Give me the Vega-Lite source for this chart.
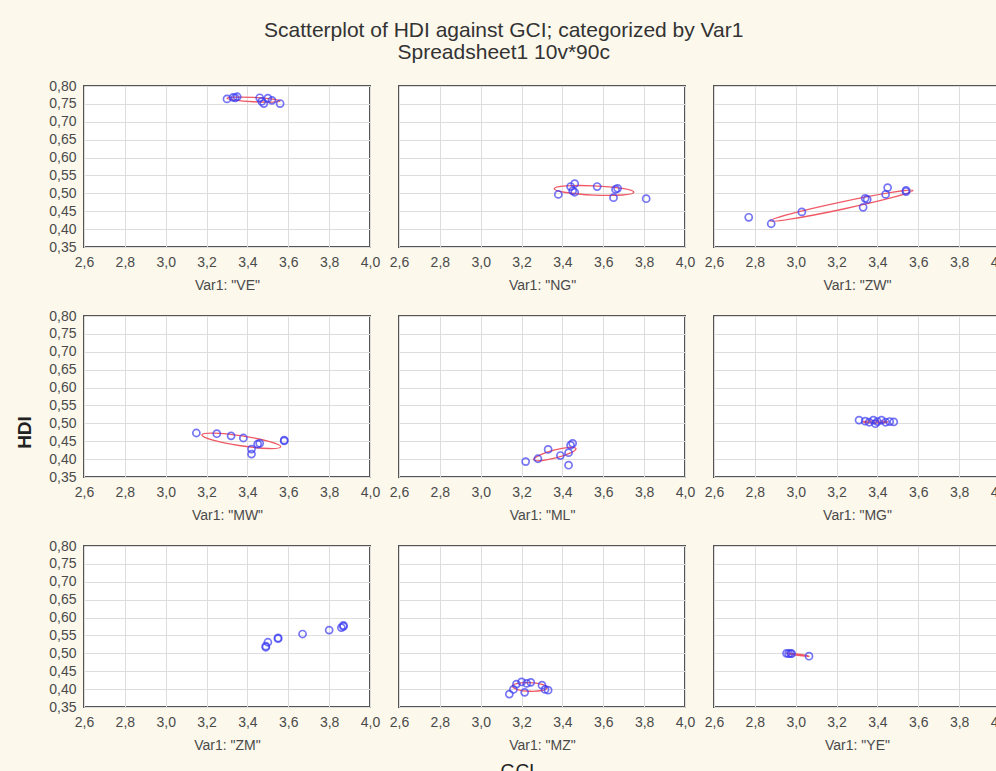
{
  "$schema": "https://vega.github.io/schema/vega-lite/v6.json",
  "padding": {"left": 14, "top": 20, "right": 0, "bottom": 0},
  "title": {
    "text": "Scatterplot of HDI against GCI; categorized by Var1",
    "subtitle": "Spreadsheet1 10v*90c",
    "anchor": "middle",
    "dx": -9,
    "offset": 15
  },
  "datasets": {
    "pts": [
      {"Var1": "VE", "GCI": 3.30, "HDI": 0.764}, {"Var1": "VE", "GCI": 3.33, "HDI": 0.768}, {"Var1": "VE", "GCI": 3.35, "HDI": 0.770}, {"Var1": "VE", "GCI": 3.34, "HDI": 0.767}, {"Var1": "VE", "GCI": 3.46, "HDI": 0.767}, {"Var1": "VE", "GCI": 3.48, "HDI": 0.751}, {"Var1": "VE", "GCI": 3.47, "HDI": 0.757}, {"Var1": "VE", "GCI": 3.50, "HDI": 0.766}, {"Var1": "VE", "GCI": 3.52, "HDI": 0.760}, {"Var1": "VE", "GCI": 3.56, "HDI": 0.751},
      {"Var1": "NG", "GCI": 3.38, "HDI": 0.497}, {"Var1": "NG", "GCI": 3.44, "HDI": 0.519}, {"Var1": "NG", "GCI": 3.46, "HDI": 0.527}, {"Var1": "NG", "GCI": 3.45, "HDI": 0.507}, {"Var1": "NG", "GCI": 3.46, "HDI": 0.503}, {"Var1": "NG", "GCI": 3.57, "HDI": 0.519}, {"Var1": "NG", "GCI": 3.66, "HDI": 0.511}, {"Var1": "NG", "GCI": 3.67, "HDI": 0.514}, {"Var1": "NG", "GCI": 3.65, "HDI": 0.488}, {"Var1": "NG", "GCI": 3.81, "HDI": 0.485},
      {"Var1": "ZW", "GCI": 2.77, "HDI": 0.433}, {"Var1": "ZW", "GCI": 2.88, "HDI": 0.415}, {"Var1": "ZW", "GCI": 3.03, "HDI": 0.448}, {"Var1": "ZW", "GCI": 3.33, "HDI": 0.461}, {"Var1": "ZW", "GCI": 3.34, "HDI": 0.486}, {"Var1": "ZW", "GCI": 3.35, "HDI": 0.483}, {"Var1": "ZW", "GCI": 3.44, "HDI": 0.497}, {"Var1": "ZW", "GCI": 3.45, "HDI": 0.516}, {"Var1": "ZW", "GCI": 3.54, "HDI": 0.505}, {"Var1": "ZW", "GCI": 3.54, "HDI": 0.508},
      {"Var1": "MW", "GCI": 3.15, "HDI": 0.473}, {"Var1": "MW", "GCI": 3.25, "HDI": 0.471}, {"Var1": "MW", "GCI": 3.32, "HDI": 0.465}, {"Var1": "MW", "GCI": 3.38, "HDI": 0.459}, {"Var1": "MW", "GCI": 3.42, "HDI": 0.414}, {"Var1": "MW", "GCI": 3.42, "HDI": 0.428}, {"Var1": "MW", "GCI": 3.45, "HDI": 0.442}, {"Var1": "MW", "GCI": 3.46, "HDI": 0.444}, {"Var1": "MW", "GCI": 3.58, "HDI": 0.453}, {"Var1": "MW", "GCI": 3.58, "HDI": 0.451},
      {"Var1": "ML", "GCI": 3.22, "HDI": 0.393}, {"Var1": "ML", "GCI": 3.28, "HDI": 0.401}, {"Var1": "ML", "GCI": 3.33, "HDI": 0.427}, {"Var1": "ML", "GCI": 3.39, "HDI": 0.410}, {"Var1": "ML", "GCI": 3.43, "HDI": 0.418}, {"Var1": "ML", "GCI": 3.44, "HDI": 0.439}, {"Var1": "ML", "GCI": 3.45, "HDI": 0.444}, {"Var1": "ML", "GCI": 3.43, "HDI": 0.383},
      {"Var1": "MG", "GCI": 3.31, "HDI": 0.509}, {"Var1": "MG", "GCI": 3.34, "HDI": 0.506}, {"Var1": "MG", "GCI": 3.36, "HDI": 0.503}, {"Var1": "MG", "GCI": 3.38, "HDI": 0.509}, {"Var1": "MG", "GCI": 3.39, "HDI": 0.499}, {"Var1": "MG", "GCI": 3.40, "HDI": 0.505}, {"Var1": "MG", "GCI": 3.42, "HDI": 0.509}, {"Var1": "MG", "GCI": 3.44, "HDI": 0.503}, {"Var1": "MG", "GCI": 3.46, "HDI": 0.505}, {"Var1": "MG", "GCI": 3.48, "HDI": 0.504},
      {"Var1": "ZM", "GCI": 3.49, "HDI": 0.517}, {"Var1": "ZM", "GCI": 3.50, "HDI": 0.531}, {"Var1": "ZM", "GCI": 3.55, "HDI": 0.543}, {"Var1": "ZM", "GCI": 3.55, "HDI": 0.541}, {"Var1": "ZM", "GCI": 3.67, "HDI": 0.554}, {"Var1": "ZM", "GCI": 3.80, "HDI": 0.565}, {"Var1": "ZM", "GCI": 3.86, "HDI": 0.572}, {"Var1": "ZM", "GCI": 3.87, "HDI": 0.578}, {"Var1": "ZM", "GCI": 3.87, "HDI": 0.575}, {"Var1": "ZM", "GCI": 3.49, "HDI": 0.520},
      {"Var1": "MZ", "GCI": 3.14, "HDI": 0.386}, {"Var1": "MZ", "GCI": 3.16, "HDI": 0.399}, {"Var1": "MZ", "GCI": 3.175, "HDI": 0.414}, {"Var1": "MZ", "GCI": 3.20, "HDI": 0.420}, {"Var1": "MZ", "GCI": 3.215, "HDI": 0.391}, {"Var1": "MZ", "GCI": 3.225, "HDI": 0.416}, {"Var1": "MZ", "GCI": 3.245, "HDI": 0.419}, {"Var1": "MZ", "GCI": 3.30, "HDI": 0.411}, {"Var1": "MZ", "GCI": 3.315, "HDI": 0.399}, {"Var1": "MZ", "GCI": 3.33, "HDI": 0.397},
      {"Var1": "YE", "GCI": 2.955, "HDI": 0.500}, {"Var1": "YE", "GCI": 2.965, "HDI": 0.499}, {"Var1": "YE", "GCI": 2.975, "HDI": 0.500}, {"Var1": "YE", "GCI": 2.98, "HDI": 0.499}, {"Var1": "YE", "GCI": 3.065, "HDI": 0.492}
    ],
    "ell": [
      {"Var1": "VE", "i": 0, "GCI": 3.56, "HDI": 0.758}, {"Var1": "VE", "i": 1, "GCI": 3.522, "HDI": 0.7634}, {"Var1": "VE", "i": 2, "GCI": 3.43, "HDI": 0.768}, {"Var1": "VE", "i": 3, "GCI": 3.338, "HDI": 0.769}, {"Var1": "VE", "i": 4, "GCI": 3.30, "HDI": 0.766}, {"Var1": "VE", "i": 5, "GCI": 3.338, "HDI": 0.7606}, {"Var1": "VE", "i": 6, "GCI": 3.43, "HDI": 0.756}, {"Var1": "VE", "i": 7, "GCI": 3.522, "HDI": 0.755},
      {"Var1": "NG", "i": 0, "GCI": 3.75, "HDI": 0.503}, {"Var1": "NG", "i": 1, "GCI": 3.693, "HDI": 0.5137}, {"Var1": "NG", "i": 2, "GCI": 3.555, "HDI": 0.521}, {"Var1": "NG", "i": 3, "GCI": 3.417, "HDI": 0.5207}, {"Var1": "NG", "i": 4, "GCI": 3.36, "HDI": 0.513}, {"Var1": "NG", "i": 5, "GCI": 3.417, "HDI": 0.5023}, {"Var1": "NG", "i": 6, "GCI": 3.555, "HDI": 0.495}, {"Var1": "NG", "i": 7, "GCI": 3.693, "HDI": 0.4953},
      {"Var1": "ZW", "i": 0, "GCI": 3.5745, "HDI": 0.508}, {"Var1": "ZW", "i": 1, "GCI": 3.4688, "HDI": 0.5026}, {"Var1": "ZW", "i": 2, "GCI": 3.2205, "HDI": 0.4755}, {"Var1": "ZW", "i": 3, "GCI": 2.9746, "HDI": 0.4426}, {"Var1": "ZW", "i": 4, "GCI": 2.875, "HDI": 0.423}, {"Var1": "ZW", "i": 5, "GCI": 2.9802, "HDI": 0.4284}, {"Var1": "ZW", "i": 6, "GCI": 3.2285, "HDI": 0.4555}, {"Var1": "ZW", "i": 7, "GCI": 3.4744, "HDI": 0.4884},
      {"Var1": "MW", "i": 0, "GCI": 3.563, "HDI": 0.4345}, {"Var1": "MW", "i": 1, "GCI": 3.509, "HDI": 0.449}, {"Var1": "MW", "i": 2, "GCI": 3.3737, "HDI": 0.4647}, {"Var1": "MW", "i": 3, "GCI": 3.2361, "HDI": 0.4724}, {"Var1": "MW", "i": 4, "GCI": 3.177, "HDI": 0.4675}, {"Var1": "MW", "i": 5, "GCI": 3.2309, "HDI": 0.453}, {"Var1": "MW", "i": 6, "GCI": 3.3663, "HDI": 0.4373}, {"Var1": "MW", "i": 7, "GCI": 3.5039, "HDI": 0.4296},
      {"Var1": "ML", "i": 0, "GCI": 3.4665, "HDI": 0.4295}, {"Var1": "ML", "i": 1, "GCI": 3.4327, "HDI": 0.4326}, {"Var1": "ML", "i": 2, "GCI": 3.358, "HDI": 0.4248}, {"Var1": "ML", "i": 3, "GCI": 3.2863, "HDI": 0.4106}, {"Var1": "ML", "i": 4, "GCI": 3.2595, "HDI": 0.3985}, {"Var1": "ML", "i": 5, "GCI": 3.2933, "HDI": 0.3954}, {"Var1": "ML", "i": 6, "GCI": 3.368, "HDI": 0.4032}, {"Var1": "ML", "i": 7, "GCI": 3.4397, "HDI": 0.4174},
      {"Var1": "MG", "i": 0, "GCI": 3.45, "HDI": 0.504}, {"Var1": "MG", "i": 1, "GCI": 3.4324, "HDI": 0.5061}, {"Var1": "MG", "i": 2, "GCI": 3.39, "HDI": 0.507}, {"Var1": "MG", "i": 3, "GCI": 3.3476, "HDI": 0.5061}, {"Var1": "MG", "i": 4, "GCI": 3.33, "HDI": 0.504}, {"Var1": "MG", "i": 5, "GCI": 3.3476, "HDI": 0.5019}, {"Var1": "MG", "i": 6, "GCI": 3.39, "HDI": 0.501}, {"Var1": "MG", "i": 7, "GCI": 3.4324, "HDI": 0.5019},
      {"Var1": "MZ", "i": 0, "GCI": 3.325, "HDI": 0.404}, {"Var1": "MZ", "i": 1, "GCI": 3.3001, "HDI": 0.4131}, {"Var1": "MZ", "i": 2, "GCI": 3.24, "HDI": 0.418}, {"Var1": "MZ", "i": 3, "GCI": 3.1799, "HDI": 0.4159}, {"Var1": "MZ", "i": 4, "GCI": 3.155, "HDI": 0.408}, {"Var1": "MZ", "i": 5, "GCI": 3.1799, "HDI": 0.3989}, {"Var1": "MZ", "i": 6, "GCI": 3.24, "HDI": 0.394}, {"Var1": "MZ", "i": 7, "GCI": 3.3001, "HDI": 0.3961},
      {"Var1": "YE", "i": 0, "GCI": 3.065, "HDI": 0.492}, {"Var1": "YE", "i": 1, "GCI": 3.0489, "HDI": 0.4943}, {"Var1": "YE", "i": 2, "GCI": 3.01, "HDI": 0.4975}, {"Var1": "YE", "i": 3, "GCI": 2.9711, "HDI": 0.4999}, {"Var1": "YE", "i": 4, "GCI": 2.955, "HDI": 0.5}, {"Var1": "YE", "i": 5, "GCI": 2.9711, "HDI": 0.4977}, {"Var1": "YE", "i": 6, "GCI": 3.01, "HDI": 0.4945}, {"Var1": "YE", "i": 7, "GCI": 3.0489, "HDI": 0.4921}
    ]
  },
  "columns": 3,
  "spacing": {"row": 69, "column": 29},
  "bounds": "flush",
  "concat": [
    {
      "width": 286, "height": 161,
      "layer": [
        {"data": {"name": "ell"}, "transform": [{"filter": "datum.Var1 == 'VE'"}],
         "mark": {"type": "line", "interpolate": "cardinal-closed", "color": "#f05a66", "strokeWidth": 1.3},
         "encoding": {
           "x": {"field": "GCI", "type": "quantitative", "scale": {"domain": [2.6, 4.0], "nice": false, "zero": false}, "axis": {"values": [2.6, 2.8, 3.0, 3.2, 3.4, 3.6, 3.8, 4.0], "labelExpr": "replace(format(datum.value, '.1f'), '.', ',')", "title": "Var1: \"VE\""}},
           "y": {"field": "HDI", "type": "quantitative", "scale": {"domain": [0.35, 0.8], "nice": false, "zero": false}, "axis": {"values": [0.35, 0.4, 0.45, 0.5, 0.55, 0.6, 0.65, 0.7, 0.75, 0.8], "labelExpr": "replace(format(datum.value, '.2f'), '.', ',')", "title": null}},
           "order": {"field": "i", "type": "quantitative"}}},
        {"data": {"name": "pts"}, "transform": [{"filter": "datum.Var1 == 'VE'"}],
         "mark": {"type": "point", "shape": "circle", "filled": false, "color": "#3c3cf2", "size": 50, "strokeWidth": 1.7},
         "encoding": {
           "x": {"field": "GCI", "type": "quantitative", "scale": {"domain": [2.6, 4.0], "nice": false, "zero": false}, "axis": {"values": [2.6, 2.8, 3.0, 3.2, 3.4, 3.6, 3.8, 4.0], "labelExpr": "replace(format(datum.value, '.1f'), '.', ',')", "title": "Var1: \"VE\""}},
           "y": {"field": "HDI", "type": "quantitative", "scale": {"domain": [0.35, 0.8], "nice": false, "zero": false}, "axis": {"values": [0.35, 0.4, 0.45, 0.5, 0.55, 0.6, 0.65, 0.7, 0.75, 0.8], "labelExpr": "replace(format(datum.value, '.2f'), '.', ',')", "title": null}}}}
      ]
    },
    {
      "width": 286, "height": 161,
      "layer": [
        {"data": {"name": "ell"}, "transform": [{"filter": "datum.Var1 == 'NG'"}],
         "mark": {"type": "line", "interpolate": "cardinal-closed", "color": "#f05a66", "strokeWidth": 1.3},
         "encoding": {
           "x": {"field": "GCI", "type": "quantitative", "scale": {"domain": [2.6, 4.0], "nice": false, "zero": false}, "axis": {"values": [2.6, 2.8, 3.0, 3.2, 3.4, 3.6, 3.8, 4.0], "labelExpr": "replace(format(datum.value, '.1f'), '.', ',')", "title": "Var1: \"NG\""}},
           "y": {"field": "HDI", "type": "quantitative", "scale": {"domain": [0.35, 0.8], "nice": false, "zero": false}, "axis": {"values": [0.35, 0.4, 0.45, 0.5, 0.55, 0.6, 0.65, 0.7, 0.75, 0.8], "labels": false, "title": null}},
           "order": {"field": "i", "type": "quantitative"}}},
        {"data": {"name": "pts"}, "transform": [{"filter": "datum.Var1 == 'NG'"}],
         "mark": {"type": "point", "shape": "circle", "filled": false, "color": "#3c3cf2", "size": 50, "strokeWidth": 1.7},
         "encoding": {
           "x": {"field": "GCI", "type": "quantitative", "scale": {"domain": [2.6, 4.0], "nice": false, "zero": false}, "axis": {"values": [2.6, 2.8, 3.0, 3.2, 3.4, 3.6, 3.8, 4.0], "labelExpr": "replace(format(datum.value, '.1f'), '.', ',')", "title": "Var1: \"NG\""}},
           "y": {"field": "HDI", "type": "quantitative", "scale": {"domain": [0.35, 0.8], "nice": false, "zero": false}, "axis": {"values": [0.35, 0.4, 0.45, 0.5, 0.55, 0.6, 0.65, 0.7, 0.75, 0.8], "labels": false, "title": null}}}}
      ]
    },
    {
      "width": 286, "height": 161,
      "layer": [
        {"data": {"name": "ell"}, "transform": [{"filter": "datum.Var1 == 'ZW'"}],
         "mark": {"type": "line", "interpolate": "cardinal-closed", "color": "#f05a66", "strokeWidth": 1.3},
         "encoding": {
           "x": {"field": "GCI", "type": "quantitative", "scale": {"domain": [2.6, 4.0], "nice": false, "zero": false}, "axis": {"values": [2.6, 2.8, 3.0, 3.2, 3.4, 3.6, 3.8, 4.0], "labelExpr": "replace(format(datum.value, '.1f'), '.', ',')", "title": "Var1: \"ZW\""}},
           "y": {"field": "HDI", "type": "quantitative", "scale": {"domain": [0.35, 0.8], "nice": false, "zero": false}, "axis": {"values": [0.35, 0.4, 0.45, 0.5, 0.55, 0.6, 0.65, 0.7, 0.75, 0.8], "labels": false, "title": null}},
           "order": {"field": "i", "type": "quantitative"}}},
        {"data": {"name": "pts"}, "transform": [{"filter": "datum.Var1 == 'ZW'"}],
         "mark": {"type": "point", "shape": "circle", "filled": false, "color": "#3c3cf2", "size": 50, "strokeWidth": 1.7},
         "encoding": {
           "x": {"field": "GCI", "type": "quantitative", "scale": {"domain": [2.6, 4.0], "nice": false, "zero": false}, "axis": {"values": [2.6, 2.8, 3.0, 3.2, 3.4, 3.6, 3.8, 4.0], "labelExpr": "replace(format(datum.value, '.1f'), '.', ',')", "title": "Var1: \"ZW\""}},
           "y": {"field": "HDI", "type": "quantitative", "scale": {"domain": [0.35, 0.8], "nice": false, "zero": false}, "axis": {"values": [0.35, 0.4, 0.45, 0.5, 0.55, 0.6, 0.65, 0.7, 0.75, 0.8], "labels": false, "title": null}}}}
      ]
    },
    {
      "width": 286, "height": 161,
      "layer": [
        {"data": {"name": "ell"}, "transform": [{"filter": "datum.Var1 == 'MW'"}],
         "mark": {"type": "line", "interpolate": "cardinal-closed", "color": "#f05a66", "strokeWidth": 1.3},
         "encoding": {
           "x": {"field": "GCI", "type": "quantitative", "scale": {"domain": [2.6, 4.0], "nice": false, "zero": false}, "axis": {"values": [2.6, 2.8, 3.0, 3.2, 3.4, 3.6, 3.8, 4.0], "labelExpr": "replace(format(datum.value, '.1f'), '.', ',')", "title": "Var1: \"MW\""}},
           "y": {"field": "HDI", "type": "quantitative", "scale": {"domain": [0.35, 0.8], "nice": false, "zero": false}, "axis": {"values": [0.35, 0.4, 0.45, 0.5, 0.55, 0.6, 0.65, 0.7, 0.75, 0.8], "labelExpr": "replace(format(datum.value, '.2f'), '.', ',')", "title": "HDI", "titleFontSize": 19, "titleFontWeight": "bold", "titleColor": "#222222", "titlePadding": 14, "titleY": 116}},
           "order": {"field": "i", "type": "quantitative"}}},
        {"data": {"name": "pts"}, "transform": [{"filter": "datum.Var1 == 'MW'"}],
         "mark": {"type": "point", "shape": "circle", "filled": false, "color": "#3c3cf2", "size": 50, "strokeWidth": 1.7},
         "encoding": {
           "x": {"field": "GCI", "type": "quantitative", "scale": {"domain": [2.6, 4.0], "nice": false, "zero": false}, "axis": {"values": [2.6, 2.8, 3.0, 3.2, 3.4, 3.6, 3.8, 4.0], "labelExpr": "replace(format(datum.value, '.1f'), '.', ',')", "title": "Var1: \"MW\""}},
           "y": {"field": "HDI", "type": "quantitative", "scale": {"domain": [0.35, 0.8], "nice": false, "zero": false}, "axis": {"values": [0.35, 0.4, 0.45, 0.5, 0.55, 0.6, 0.65, 0.7, 0.75, 0.8], "labelExpr": "replace(format(datum.value, '.2f'), '.', ',')", "title": "HDI", "titleFontSize": 19, "titleFontWeight": "bold", "titleColor": "#222222", "titlePadding": 14, "titleY": 116}}}}
      ]
    },
    {
      "width": 286, "height": 161,
      "layer": [
        {"data": {"name": "ell"}, "transform": [{"filter": "datum.Var1 == 'ML'"}],
         "mark": {"type": "line", "interpolate": "cardinal-closed", "color": "#f05a66", "strokeWidth": 1.3},
         "encoding": {
           "x": {"field": "GCI", "type": "quantitative", "scale": {"domain": [2.6, 4.0], "nice": false, "zero": false}, "axis": {"values": [2.6, 2.8, 3.0, 3.2, 3.4, 3.6, 3.8, 4.0], "labelExpr": "replace(format(datum.value, '.1f'), '.', ',')", "title": "Var1: \"ML\""}},
           "y": {"field": "HDI", "type": "quantitative", "scale": {"domain": [0.35, 0.8], "nice": false, "zero": false}, "axis": {"values": [0.35, 0.4, 0.45, 0.5, 0.55, 0.6, 0.65, 0.7, 0.75, 0.8], "labels": false, "title": null}},
           "order": {"field": "i", "type": "quantitative"}}},
        {"data": {"name": "pts"}, "transform": [{"filter": "datum.Var1 == 'ML'"}],
         "mark": {"type": "point", "shape": "circle", "filled": false, "color": "#3c3cf2", "size": 50, "strokeWidth": 1.7},
         "encoding": {
           "x": {"field": "GCI", "type": "quantitative", "scale": {"domain": [2.6, 4.0], "nice": false, "zero": false}, "axis": {"values": [2.6, 2.8, 3.0, 3.2, 3.4, 3.6, 3.8, 4.0], "labelExpr": "replace(format(datum.value, '.1f'), '.', ',')", "title": "Var1: \"ML\""}},
           "y": {"field": "HDI", "type": "quantitative", "scale": {"domain": [0.35, 0.8], "nice": false, "zero": false}, "axis": {"values": [0.35, 0.4, 0.45, 0.5, 0.55, 0.6, 0.65, 0.7, 0.75, 0.8], "labels": false, "title": null}}}}
      ]
    },
    {
      "width": 286, "height": 161,
      "layer": [
        {"data": {"name": "ell"}, "transform": [{"filter": "datum.Var1 == 'MG'"}],
         "mark": {"type": "line", "interpolate": "cardinal-closed", "color": "#f05a66", "strokeWidth": 1.3},
         "encoding": {
           "x": {"field": "GCI", "type": "quantitative", "scale": {"domain": [2.6, 4.0], "nice": false, "zero": false}, "axis": {"values": [2.6, 2.8, 3.0, 3.2, 3.4, 3.6, 3.8, 4.0], "labelExpr": "replace(format(datum.value, '.1f'), '.', ',')", "title": "Var1: \"MG\""}},
           "y": {"field": "HDI", "type": "quantitative", "scale": {"domain": [0.35, 0.8], "nice": false, "zero": false}, "axis": {"values": [0.35, 0.4, 0.45, 0.5, 0.55, 0.6, 0.65, 0.7, 0.75, 0.8], "labels": false, "title": null}},
           "order": {"field": "i", "type": "quantitative"}}},
        {"data": {"name": "pts"}, "transform": [{"filter": "datum.Var1 == 'MG'"}],
         "mark": {"type": "point", "shape": "circle", "filled": false, "color": "#3c3cf2", "size": 50, "strokeWidth": 1.7},
         "encoding": {
           "x": {"field": "GCI", "type": "quantitative", "scale": {"domain": [2.6, 4.0], "nice": false, "zero": false}, "axis": {"values": [2.6, 2.8, 3.0, 3.2, 3.4, 3.6, 3.8, 4.0], "labelExpr": "replace(format(datum.value, '.1f'), '.', ',')", "title": "Var1: \"MG\""}},
           "y": {"field": "HDI", "type": "quantitative", "scale": {"domain": [0.35, 0.8], "nice": false, "zero": false}, "axis": {"values": [0.35, 0.4, 0.45, 0.5, 0.55, 0.6, 0.65, 0.7, 0.75, 0.8], "labels": false, "title": null}}}}
      ]
    },
    {
      "width": 286, "height": 161,
      "layer": [
        {"data": {"name": "pts"}, "transform": [{"filter": "datum.Var1 == 'ZM'"}],
         "mark": {"type": "point", "shape": "circle", "filled": false, "color": "#3c3cf2", "size": 50, "strokeWidth": 1.7},
         "encoding": {
           "x": {"field": "GCI", "type": "quantitative", "scale": {"domain": [2.6, 4.0], "nice": false, "zero": false}, "axis": {"values": [2.6, 2.8, 3.0, 3.2, 3.4, 3.6, 3.8, 4.0], "labelExpr": "replace(format(datum.value, '.1f'), '.', ',')", "title": "Var1: \"ZM\""}},
           "y": {"field": "HDI", "type": "quantitative", "scale": {"domain": [0.35, 0.8], "nice": false, "zero": false}, "axis": {"values": [0.35, 0.4, 0.45, 0.5, 0.55, 0.6, 0.65, 0.7, 0.75, 0.8], "labelExpr": "replace(format(datum.value, '.2f'), '.', ',')", "title": null}}}}
      ]
    },
    {
      "width": 286, "height": 161,
      "resolve": {"axis": {"x": "independent"}},
      "layer": [
        {"data": {"name": "ell"}, "transform": [{"filter": "datum.Var1 == 'MZ'"}],
         "mark": {"type": "line", "interpolate": "cardinal-closed", "color": "#f05a66", "strokeWidth": 1.3},
         "encoding": {
           "x": {"field": "GCI", "type": "quantitative", "scale": {"domain": [2.6, 4.0], "nice": false, "zero": false}, "axis": {"values": [2.6, 2.8, 3.0, 3.2, 3.4, 3.6, 3.8, 4.0], "labelExpr": "replace(format(datum.value, '.1f'), '.', ',')", "title": "Var1: \"MZ\"", "orient": "bottom"}},
           "y": {"field": "HDI", "type": "quantitative", "scale": {"domain": [0.35, 0.8], "nice": false, "zero": false}, "axis": {"values": [0.35, 0.4, 0.45, 0.5, 0.55, 0.6, 0.65, 0.7, 0.75, 0.8], "labels": false, "title": null}},
           "order": {"field": "i", "type": "quantitative"}}},
        {"data": {"name": "pts"}, "transform": [{"filter": "datum.Var1 == 'MZ'"}],
         "mark": {"type": "point", "shape": "circle", "filled": false, "color": "#3c3cf2", "size": 50, "strokeWidth": 1.7},
         "encoding": {
           "x": {"field": "GCI", "type": "quantitative", "scale": {"domain": [2.6, 4.0], "nice": false, "zero": false}, "axis": {"orient": "bottom", "offset": 52, "labels": false, "grid": false, "ticks": false, "domain": false, "title": "GCI", "titleFontSize": 19, "titleColor": "#222222", "titlePadding": 2, "titleX": 118}},
           "y": {"field": "HDI", "type": "quantitative", "scale": {"domain": [0.35, 0.8], "nice": false, "zero": false}, "axis": {"values": [0.35, 0.4, 0.45, 0.5, 0.55, 0.6, 0.65, 0.7, 0.75, 0.8], "labels": false, "title": null}}}}
      ]
    },
    {
      "width": 286, "height": 161,
      "layer": [
        {"data": {"name": "ell"}, "transform": [{"filter": "datum.Var1 == 'YE'"}],
         "mark": {"type": "line", "interpolate": "cardinal-closed", "color": "#f05a66", "strokeWidth": 1.3},
         "encoding": {
           "x": {"field": "GCI", "type": "quantitative", "scale": {"domain": [2.6, 4.0], "nice": false, "zero": false}, "axis": {"values": [2.6, 2.8, 3.0, 3.2, 3.4, 3.6, 3.8, 4.0], "labelExpr": "replace(format(datum.value, '.1f'), '.', ',')", "title": "Var1: \"YE\""}},
           "y": {"field": "HDI", "type": "quantitative", "scale": {"domain": [0.35, 0.8], "nice": false, "zero": false}, "axis": {"values": [0.35, 0.4, 0.45, 0.5, 0.55, 0.6, 0.65, 0.7, 0.75, 0.8], "labels": false, "title": null}},
           "order": {"field": "i", "type": "quantitative"}}},
        {"data": {"name": "pts"}, "transform": [{"filter": "datum.Var1 == 'YE'"}],
         "mark": {"type": "point", "shape": "circle", "filled": false, "color": "#3c3cf2", "size": 50, "strokeWidth": 1.7},
         "encoding": {
           "x": {"field": "GCI", "type": "quantitative", "scale": {"domain": [2.6, 4.0], "nice": false, "zero": false}, "axis": {"values": [2.6, 2.8, 3.0, 3.2, 3.4, 3.6, 3.8, 4.0], "labelExpr": "replace(format(datum.value, '.1f'), '.', ',')", "title": "Var1: \"YE\""}},
           "y": {"field": "HDI", "type": "quantitative", "scale": {"domain": [0.35, 0.8], "nice": false, "zero": false}, "axis": {"values": [0.35, 0.4, 0.45, 0.5, 0.55, 0.6, 0.65, 0.7, 0.75, 0.8], "labels": false, "title": null}}}}
      ]
    }
  ],
  "config": {
    "background": "#fcf8ec",
    "font": "Liberation Sans",
    "view": {"stroke": "#555555", "strokeWidth": 2, "fill": "#ffffff"},
    "axis": {
      "gridColor": "#dddddd", "gridWidth": 1, "ticks": false, "domain": false,
      "labelFont": "Liberation Sans", "labelFontSize": 14, "labelColor": "#4a4a4a", "labelPadding": 8,
      "labelFlush": false, "labelOverlap": false, "labelBound": false,
      "titleFont": "Liberation Sans", "titleFontSize": 14, "titleFontWeight": "normal", "titleColor": "#4a4a4a", "titlePadding": 9
    },
    "title": {
      "font": "Liberation Sans", "fontSize": 21, "fontWeight": "normal", "color": "#333333",
      "subtitleFont": "Liberation Sans", "subtitleFontSize": 21, "subtitleColor": "#333333", "subtitlePadding": 1
    }
  }
}
